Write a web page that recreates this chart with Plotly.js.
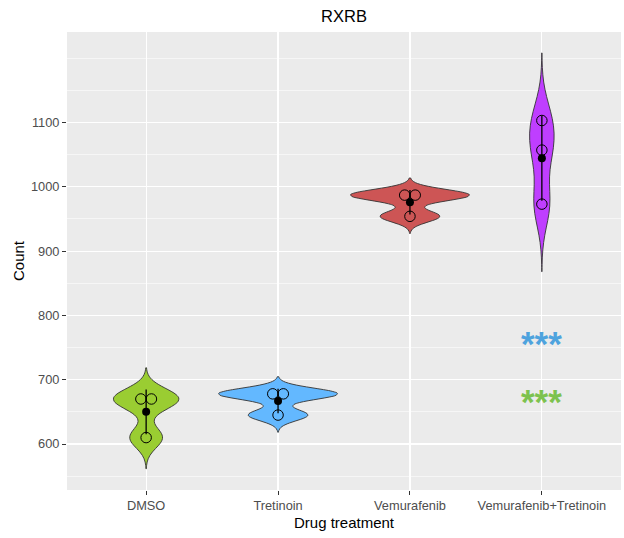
<!DOCTYPE html>
<html>
<head>
<meta charset="utf-8">
<script src="https://cdn.plot.ly/plotly-3.0.1.min.js"></script>
<style>html,body{margin:0;padding:0;background:#fff;}#chart{width:624px;height:538px;}</style>
</head>
<body>
<div id="chart"></div>
<script>
// ---- data ----
var categories = ['DMSO', 'Tretinoin', 'Vemurafenib', 'Vemurafenib+Tretinoin'];
var dmso = [670, 670, 610];
var tretinoin = [678, 678, 645];
var vemurafenib = [987, 987, 954];
var vemTret = [1103, 1057, 973];
var yTickVals = [600, 700, 800, 900, 1000, 1100];
var yMinorVals = [550, 650, 750, 850, 950, 1050, 1150, 1200];
var starLabels = ['***', '***'];
var starValues = [765, 675];

// ---- styles ----
var fills = ['#9ACD32', '#63B8FF', '#CD5555', '#BF3EFF'];
var starColors = ['#4EA3DE', '#7DC24E'];
var groups = [dmso, tretinoin, vemurafenib, vemTret];
var maxViolinWidth = 0.9;

function mean(a){ return a.reduce(function(s,v){return s+v;},0)/a.length; }
function sd(a){ var m=mean(a); return Math.sqrt(a.reduce(function(s,v){return s+(v-m)*(v-m);},0)/(a.length-1)); }
function quantile7(a,p){ var s=a.slice().sort(function(x,y){return x-y;}); var h=(s.length-1)*p; var lo=Math.floor(h); var hi=Math.ceil(h); return s[lo]+(h-lo)*(s[hi]-s[lo]); }
function nrd0(a){ var iqr=quantile7(a,0.75)-quantile7(a,0.25); var lo=Math.min(sd(a), iqr/1.34); return 0.9*lo*Math.pow(a.length,-0.2); }
function kdePeak(a,bw){
  var lo=Math.min.apply(null,a)-3*bw, hi=Math.max.apply(null,a)+3*bw, best=0;
  for(var k=0;k<=2000;k++){
    var t=lo+(hi-lo)*k/2000, s=0;
    a.forEach(function(v){ var z=(t-v)/bw; s+=Math.exp(-0.5*z*z)/(bw*Math.sqrt(2*Math.PI)); });
    s/=a.length; if(s>best) best=s;
  }
  return best;
}

var bws = groups.map(nrd0);
var peaks = groups.map(function(g,i){ return kdePeak(g,bws[i]); });
var globalPeak = Math.max.apply(null, peaks);

var traces = [];
// violins (ggplot trim=FALSE, scale="area")
groups.forEach(function(g,i){
  var bw = bws[i];
  traces.push({
    type:'violin', x:g.map(function(){return i;}), y:g, name:categories[i],
    bandwidth: bw, spanmode:'manual', span:[Math.min.apply(null,g)-3*bw, Math.max.apply(null,g)+3*bw],
    width: maxViolinWidth*peaks[i]/globalPeak, scalegroup:'g'+i, scalemode:'width',
    points:false, box:{visible:false}, meanline:{visible:false},
    fillcolor:fills[i], opacity:1, line:{color:'#333333', width:0.9},
    hoverinfo:'skip', showlegend:false
  });
});
// error bars (mean ± SD)
traces.push({
  type:'scatter', mode:'markers',
  x:groups.map(function(g,i){return i;}), y:groups.map(mean),
  marker:{size:1, color:'rgba(0,0,0,0)'},
  error_y:{type:'data', array:groups.map(sd), visible:true, color:'#000', thickness:1.3, width:0},
  hoverinfo:'skip', showlegend:false
});
// open circles (centred dot stacks)
var dotStep = 0.08;
var px=[], py=[];
groups.forEach(function(g,i){
  var counts={};
  g.forEach(function(v){counts[v]=(counts[v]||0)+1;});
  var seen={};
  g.forEach(function(v){
    var k=counts[v]; var j=seen[v]||0; seen[v]=j+1;
    px.push(i + (j-(k-1)/2)*dotStep); py.push(v);
  });
});
traces.push({
  type:'scatter', mode:'markers', x:px, y:py,
  marker:{symbol:'circle-open', size:10.5, color:'#000', line:{width:1, color:'#000'}},
  hoverinfo:'skip', showlegend:false
});
// mean points
traces.push({
  type:'scatter', mode:'markers',
  x:groups.map(function(g,i){return i;}), y:groups.map(mean),
  marker:{size:8, color:'#000'},
  hoverinfo:'skip', showlegend:false
});

var annotations = starLabels.map(function(t,k){
  return {x:3, y:starValues[k], xref:'x', yref:'y', text:'<b>'+t+'</b>', showarrow:false,
    font:{family:'Liberation Sans, Arial, sans-serif', size:35, color:starColors[k]}, yshift:-6};
});

var layout = {
  width:624, height:538,
  margin:{l:67, r:3, t:32, b:48},
  paper_bgcolor:'#ffffff', plot_bgcolor:'#EBEBEB',
  font:{family:'Liberation Sans, Arial, sans-serif', color:'#000'},
  violinmode:'overlay',
  title:{text:'RXRB', x:0.5, xref:'paper', y:1-16/538, yref:'container', yanchor:'middle', font:{size:16.5, color:'#000'}},
  xaxis:{range:[-0.6,3.6], tickmode:'array', tickvals:[0,1,2,3], ticktext:categories,
    showgrid:true, gridcolor:'#ffffff', gridwidth:1.1, zeroline:false, showline:false,
    ticks:'outside', ticklen:4, tickwidth:1, tickcolor:'#333333',
    tickfont:{size:12.8, color:'#4D4D4D'},
    title:{text:'Drug treatment', font:{size:15, color:'#000'}, standoff:5}},
  yaxis:{range:[528.5,1240.6], tickmode:'array', tickvals:yTickVals,
    showgrid:true, gridcolor:'#ffffff', gridwidth:1.1, zeroline:false, showline:false,
    ticks:'outside', ticklen:4, tickwidth:1, tickcolor:'#333333',
    tickfont:{size:12.8, color:'#4D4D4D'},
    minor:{tickmode:'array', tickvals:yMinorVals, showgrid:true, gridcolor:'#ffffff', gridwidth:0.55, ticks:''},
    title:{text:'Count', font:{size:15, color:'#000'}, standoff:2}},
  annotations:annotations
};

Plotly.newPlot('chart', traces, layout, {staticPlot:true, displayModeBar:false});
</script>
</body>
</html>
